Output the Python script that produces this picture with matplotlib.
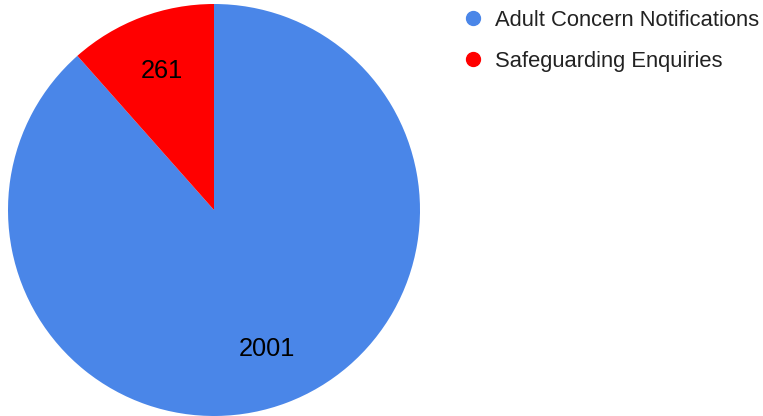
import matplotlib
matplotlib.use("Agg")
import matplotlib.pyplot as plt
from matplotlib.lines import Line2D

### Data ###
categories	= ["Adult Concern Notifications", "Safeguarding Enquiries"]
values		= [2001, 261]
colors		= ["#4a86e8", "#ff0000"]

plt.rcParams['font.family'] = ['Liberation Sans', 'DejaVu Sans']

fig = plt.figure(figsize=(7.63, 4.16), dpi=100)
ax = fig.add_axes([8 / 763, 0 / 416, 412 / 763, 412 / 416])

wedges, texts, autotexts = ax.pie(
	values, colors=colors, startangle=90, counterclock=False,
	autopct=lambda p: "%d" % round(p * sum(values) / 100.0),
	pctdistance=0.72, radius=1.0,
	textprops={"fontsize": 18.3, "color": "black"},
)
ax.set_xlim(-1, 1)
ax.set_ylim(-1, 1)
ax.set_aspect("equal")

##
# Legend in the upper right, round markers
##
handles = [Line2D([0], [0], marker="o", linestyle="", markersize=10,
	markerfacecolor=c, markeredgecolor=c) for c in colors]
leg = fig.legend(handles, categories, loc="upper left",
	bbox_to_anchor=(462 / 763, 1 - 10 / 416), frameon=False, fontsize=15.8,
	handlelength=1.0, handletextpad=0.5, labelspacing=0.9,
	borderaxespad=0, borderpad=0)
for t in leg.get_texts():
	t.set_color("#222222")

fig.savefig("out.png", dpi=100)
